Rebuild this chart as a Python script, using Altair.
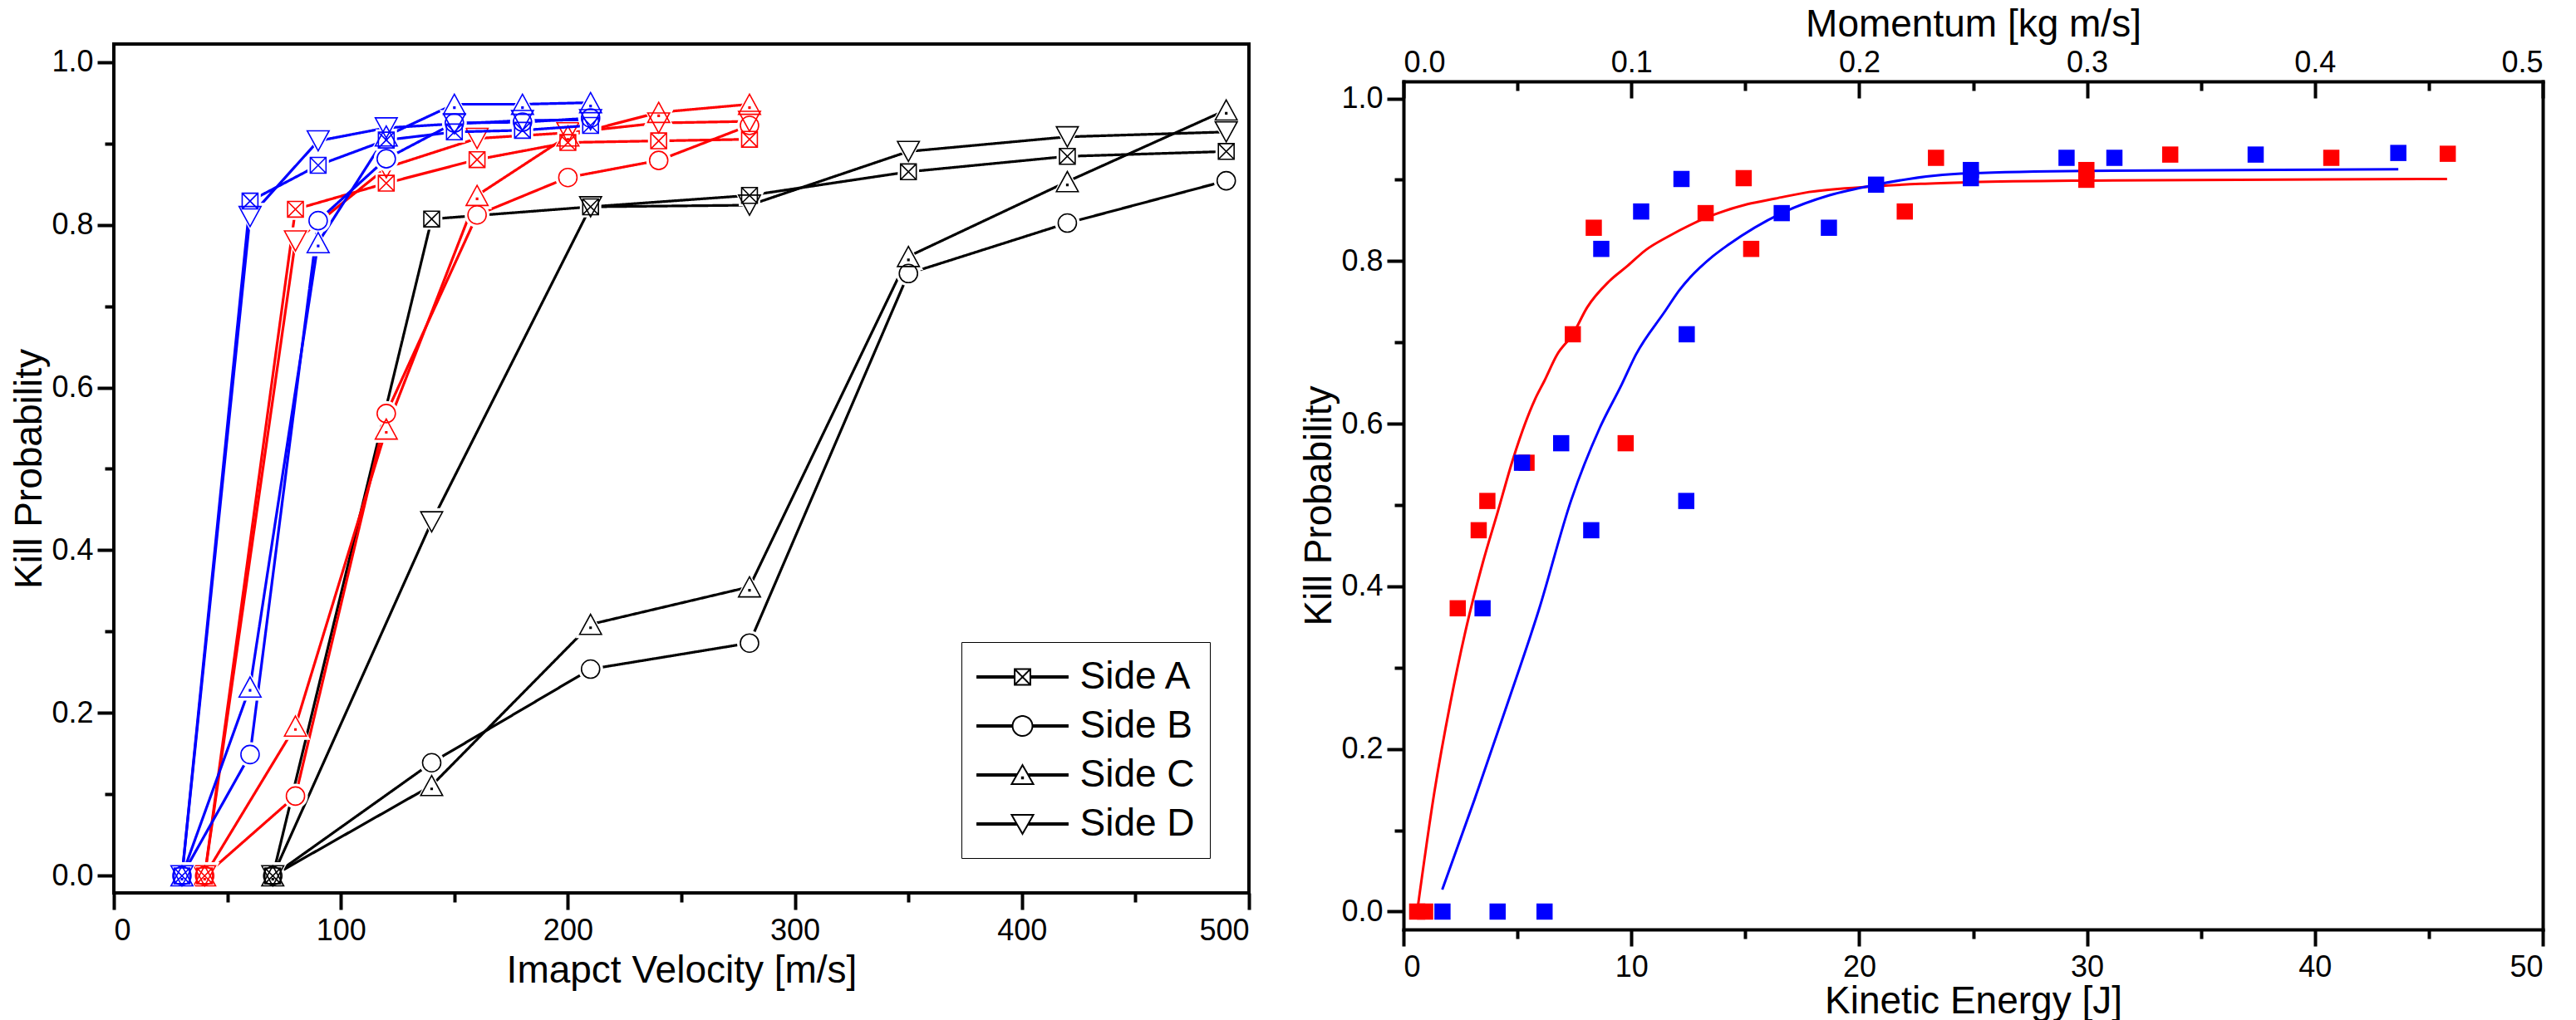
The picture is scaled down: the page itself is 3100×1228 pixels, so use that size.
import altair as alt
import pandas as pd

FONT = "Liberation Sans, Arial, sans-serif"
SIDES = ["Side A", "Side B", "Side C", "Side D"]

# ---------------- left panel: kill probability vs impact velocity ----------------
v_blue = [30, 60, 90, 120, 150, 180, 210]
blue_a = [0.0, 0.829, 0.873, 0.904, 0.914, 0.916, 0.922]
blue_b = [0.0, 0.149, 0.805, 0.881, 0.925, 0.926, 0.931]
blue_c = [0.0, 0.232, 0.778, 0.909, 0.948, 0.948, 0.950]
blue_d = [0.0, 0.810, 0.903, 0.919, 0.924, 0.928, 0.929]

v_red = [40, 80, 120, 160, 200, 240, 280]
red_a = [0.0, 0.819, 0.851, 0.880, 0.901, 0.903, 0.905]
red_b = [0.0, 0.098, 0.568, 0.812, 0.858, 0.879, 0.922]
red_c = [0.0, 0.184, 0.549, 0.836, 0.909, 0.938, 0.948]
red_d = [0.0, 0.780, 0.870, 0.906, 0.913, 0.925, 0.927]

v_black = [70, 140, 210, 280, 350, 420, 490]
black_a = [0.0, 0.807, 0.822, 0.836, 0.865, 0.884, 0.890]
black_b = [0.0, 0.139, 0.254, 0.286, 0.740, 0.802, 0.854]
black_c = [0.0, 0.111, 0.309, 0.355, 0.761, 0.853, 0.941]
black_d = [0.0, 0.435, 0.822, 0.824, 0.890, 0.908, 0.914]

# ---------------- right panel: kill probability vs kinetic energy ----------------
ke_red = [0.6, 0.95, 2.38, 3.3, 3.68, 5.4, 7.43, 8.35, 9.75, 13.26, 14.93, 15.26,
          22.0, 23.37, 29.97, 29.97, 33.65, 40.72, 45.83]
kp_red = [0.0, 0.0, 0.373, 0.469, 0.505, 0.552, 0.710, 0.841, 0.576, 0.859, 0.902, 0.815,
          0.861, 0.927, 0.912, 0.900, 0.931, 0.927, 0.932]
ke_blue = [1.71, 4.13, 6.19, 3.47, 5.2, 6.92, 8.24, 8.68, 10.43, 12.2, 12.41, 12.43,
           16.6, 18.67, 20.74, 24.9, 24.9, 29.1, 31.2, 37.4, 43.66]
kp_blue = [0.0, 0.0, 0.0, 0.373, 0.552, 0.576, 0.469, 0.815, 0.861, 0.901, 0.505, 0.710,
           0.859, 0.841, 0.894, 0.912, 0.902, 0.927, 0.927, 0.931, 0.933]

fit_red_e = [0.6, 1.35, 2.06, 2.77, 3.47, 4.14, 4.8, 5.77, 6.17, 6.74, 7.43, 8.06, 9.02,
             9.83, 10.65, 11.6, 13.26, 15.1, 16.33, 17.8, 20.74, 22.7, 24.9, 30.0, 45.8]
fit_red_p = [0.0, 0.146, 0.257, 0.351, 0.428, 0.492, 0.556, 0.630, 0.652, 0.685, 0.710, 0.743,
             0.775, 0.794, 0.814, 0.830, 0.853, 0.870, 0.877, 0.885, 0.892, 0.895, 0.897, 0.899, 0.901]
fit_blue_e = [1.7, 3.12, 4.53, 5.94, 7.36, 8.6, 9.59, 10.2, 11.47, 12.1, 13.58, 14.25,
              16.6, 18.7, 20.74, 23.3, 24.9, 30.0, 43.66]
fit_blue_p = [0.027, 0.138, 0.253, 0.371, 0.506, 0.594, 0.649, 0.685, 0.738, 0.764, 0.806, 0.820,
              0.859, 0.881, 0.894, 0.905, 0.908, 0.911, 0.913]

# marker outlines, unit coordinates (scaled by sqrt(size)/2)
SHAPES = [
    "M-0.86,-0.86H0.86V0.86H-0.86Z M-0.86,-0.86L0.86,0.86 M0.86,-0.86L-0.86,0.86",
    "circle",
    "M0,-1.1L1.2,1.1L-1.2,1.1Z M-0.07,0.3h0.14v0.14h-0.14Z",
    "M0,1.1L1.2,-1.1L-1.2,-1.1Z",
]

# legend glyphs (unit = 23 px): a thick line segment with the marker in its middle
_L = "M-2.41,-0.044H{a}M-2.41,0.044H{a}M{b},-0.044H2.41M{b},0.044H2.41"
LEGEND_GLYPHS = [
    _L.format(a=-0.41, b=0.41) + "M-0.41,-0.41H0.41V0.41H-0.41ZM-0.41,-0.41L0.41,0.41M0.41,-0.41L-0.41,0.41",
    _L.format(a=-0.52, b=0.52) + "M0.52,0A0.52,0.52,0,1,1,-0.52,0A0.52,0.52,0,1,1,0.52,0Z",
    _L.format(a=-0.3, b=0.3) + "M0,-0.52L0.57,0.48H-0.57ZM-0.03,0.12h0.06v0.06h-0.06Z",
    _L.format(a=-0.3, b=0.3) + "M0,0.52L0.57,-0.48H-0.57Z",
]
glyph_expr = (
    f"datum.value === 'Side A' ? '{LEGEND_GLYPHS[0]}' : "
    f"datum.value === 'Side B' ? '{LEGEND_GLYPHS[1]}' : "
    f"datum.value === 'Side C' ? '{LEGEND_GLYPHS[2]}' : '{LEGEND_GLYPHS[3]}'"
)

groups = [
    ("black", "black", v_black, [black_a, black_b, black_c, black_d]),
    ("red", "#FF0000", v_red, [red_a, red_b, red_c, red_d]),
    ("blue", "#0000FF", v_blue, [blue_a, blue_b, blue_c, blue_d]),
]

rows = []
for name, _, vels, series in groups:
    for side, vals in zip(SIDES, series):
        for v, p in zip(vels, vals):
            rows.append({"group": name, "side": side, "entry": side, "v": v, "p": p})
left_df = pd.DataFrame(rows)

# minor ticks are drawn as the inner part of a dashed full-length tick
Y_MINOR = "(datum.value * 10 + 0.5) % 2 >= 1"
FRAME = dict(domainColor="black", domainWidth=4, domainCap="square")


def y_axis(domain=False):
    return alt.Axis(
        orient="left",
        values=[0.0, 0.1, 0.2, 0.3, 0.4, 0.5, 0.6, 0.7, 0.8, 0.9, 1.0],
        labelExpr=f"{Y_MINOR} ? '' : format(datum.value, '.1f')",
        tickSize=20,
        tickDash={"condition": {"test": Y_MINOR, "value": [11, 9]}, "value": [1, 0]},
        tickWidth=4, tickColor="black", domain=domain, grid=False, **FRAME,
        labelFont=FONT, labelFontSize=36, labelColor="black", labelPadding=5, labelOverlap=False,
        title="Kill Probability", titleFont=FONT, titleFontSize=46, titleFontWeight="normal",
        titleColor="black", titlePadding=2,
    )


def x_axis(values, major, title, title_pad, domain=False):
    minor = f"datum.value % {major} !== 0"
    return alt.Axis(
        orient="bottom", values=values,
        labelExpr=f"{minor} ? '' : format(datum.value, 'd')",
        tickSize=20,
        tickDash={"condition": {"test": minor, "value": [11, 9]}, "value": [1, 0]},
        tickWidth=4, tickColor="black", domain=domain, grid=False, **FRAME,
        labelFont=FONT, labelFontSize=36, labelColor="black", labelPadding=8, labelOverlap=False,
        title=title, titleFont=FONT, titleFontSize=46, titleFontWeight="normal",
        titleColor="black", titlePadding=title_pad,
    )


vel_scale = alt.Scale(domain=[0, 500], nice=False, zero=False)
left_y_scale = alt.Scale(domain=[-0.021, 1.022], nice=False, zero=False)
shape_scale = alt.Scale(domain=SIDES, range=SHAPES)
solid_scale = alt.Scale(range=[[1, 0], [1, 0], [1, 0], [1, 0]])

side_legend = alt.Legend(
    orient="none", legendX=1020, legendY=720, title=None,
    labelFont=FONT, labelFontSize=46, labelColor="black",
    symbolType={"expr": glyph_expr}, symbolSize=2116, symbolOffset=31.5, labelOffset=45,
    symbolStrokeWidth=2, symbolStrokeColor="black", symbolOpacity=1,
    rowPadding=12, padding=18, strokeColor="black", fillColor="white",
)

left_layers = []
for i, (name, col, _, _) in enumerate(groups):
    base = alt.Chart(left_df[left_df["group"] == name])
    if i == 0:
        xa = x_axis(list(range(0, 501, 50)), 100, "Imapct Velocity [m/s]", 8)
        ya = y_axis()
        dash = alt.StrokeDash("entry:N", scale=solid_scale, legend=side_legend)
    else:
        xa = None
        ya = None
        dash = alt.StrokeDash("entry:N", scale=solid_scale, legend=None)
    line = base.mark_line(color=col, strokeWidth=3.2).encode(
        x=alt.X("v:Q", scale=vel_scale, axis=xa),
        y=alt.Y("p:Q", scale=left_y_scale, axis=ya),
        strokeDash=dash,
    )
    # white halo under each marker so the connecting lines stop short of it
    halo = base.mark_point(filled=True, color="white", opacity=1, size=900, strokeWidth=0).encode(
        x=alt.X("v:Q", scale=vel_scale, axis=None),
        y=alt.Y("p:Q", scale=left_y_scale, axis=None),
        shape=alt.Shape("side:N", scale=shape_scale, legend=None),
    )
    pts = base.mark_point(filled=False, color=col, opacity=1, size=484, strokeWidth=1.6).encode(
        x=alt.X("v:Q", scale=vel_scale, axis=None),
        y=alt.Y("p:Q", scale=left_y_scale, axis=None),
        shape=alt.Shape("side:N", scale=shape_scale, legend=None),
    )
    left_layers += [line, halo, pts]

left = (
    alt.layer(*left_layers)
    .resolve_axis(x="independent", y="independent")
    .properties(width=1366, height=1022, view=alt.ViewBackground(stroke="black", strokeWidth=4))
)

# ---------------- right panel ----------------
# the view is 45 px taller than the frame; the frame is drawn by the axis lines
TOP_GAP = 45
R_HEIGHT = 1021
ke_scale = alt.Scale(domain=[0, 50], nice=False, zero=False)
right_y_scale = alt.Scale(domain=[-0.022, 1.021], nice=False, zero=False,
                          range=[R_HEIGHT + TOP_GAP, TOP_GAP])

red_pts = pd.DataFrame({"e": ke_red, "p": kp_red})
blue_pts = pd.DataFrame({"e": ke_blue, "p": kp_blue})
red_fit = pd.DataFrame({"e": fit_red_e, "p": fit_red_p})
blue_fit = pd.DataFrame({"e": fit_blue_e, "p": fit_blue_p})

momentum_axis = alt.Axis(
    orient="top", offset=-(TOP_GAP + 20), values=list(range(0, 51, 5)),
    labelExpr="datum.value % 10 === 0 ? format(datum.value / 100, '.1f') : ''",
    tickSize=20,
    tickDash={"condition": {"test": "datum.value % 10 !== 0", "value": [0, 9, 11, 0]}, "value": [1, 0]},
    tickWidth=4, tickColor="black", domain=False, grid=False,
    labelFont=FONT, labelFontSize=36, labelColor="black", labelPadding=4, labelOverlap=False,
    title="Momentum [kg m/s]", titleFont=FONT, titleFontSize=46, titleFontWeight="normal",
    titleColor="black", titlePadding=4,
)
top_edge = alt.Axis(orient="top", offset=-TOP_GAP, domain=True, ticks=False, labels=False,
                    grid=False, title=None, **FRAME)
right_edge = alt.Axis(orient="right", domain=True, ticks=False, labels=False,
                      grid=False, title=None, **FRAME)

red_curve = alt.Chart(red_fit).mark_line(color="#FF0000", strokeWidth=3, interpolate="monotone").encode(
    x=alt.X("e:Q", scale=ke_scale, axis=momentum_axis),
    y=alt.Y("p:Q", scale=right_y_scale, axis=None),
)
blue_curve = alt.Chart(blue_fit).mark_line(color="#0000FF", strokeWidth=3, interpolate="monotone").encode(
    x=alt.X("e:Q", scale=ke_scale, axis=top_edge),
    y=alt.Y("p:Q", scale=right_y_scale, axis=None),
)
red_sq = alt.Chart(red_pts).mark_square(color="#FF0000", size=380, opacity=1, filled=True).encode(
    x=alt.X("e:Q", scale=ke_scale,
            axis=x_axis(list(range(0, 51, 5)), 10, "Kinetic Energy [J]", 1, domain=True)),
    y=alt.Y("p:Q", scale=right_y_scale, axis=y_axis(domain=True)),
)
blue_sq = alt.Chart(blue_pts).mark_square(color="#0000FF", size=380, opacity=1, filled=True).encode(
    x=alt.X("e:Q", scale=ke_scale, axis=None),
    y=alt.Y("p:Q", scale=right_y_scale, axis=right_edge),
)

right = (
    alt.layer(red_curve, blue_curve, red_sq, blue_sq)
    .resolve_axis(x="independent", y="independent")
    .properties(width=1371, height=R_HEIGHT + TOP_GAP,
                view=alt.ViewBackground(stroke="transparent"))
)

chart = (
    alt.hconcat(left, right, spacing=57)
    .properties(padding={"left": 10, "top": 5, "right": 5, "bottom": 0}, background="white")
    .configure_view(stroke="transparent")
)

chart.save("out.html", embed_options={"renderer": "svg", "actions": False})
